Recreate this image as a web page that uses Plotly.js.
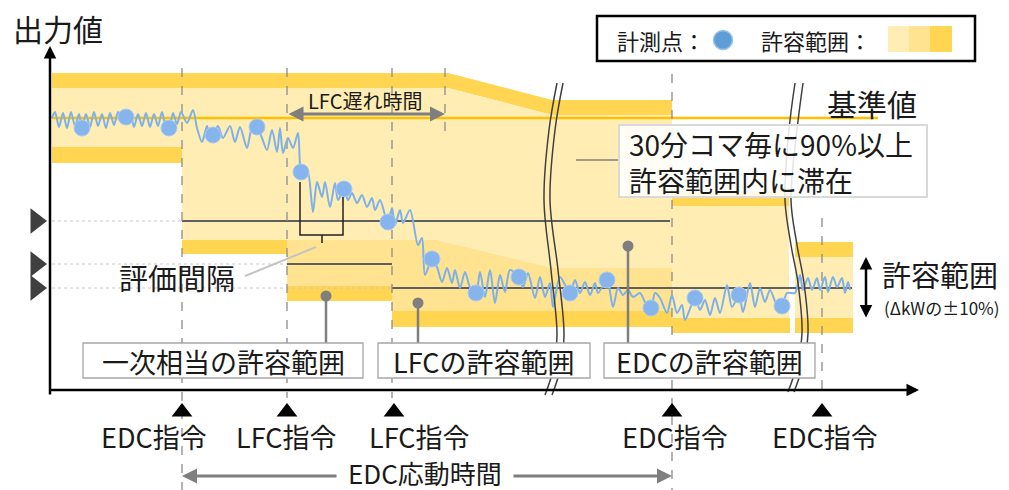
<!DOCTYPE html>
<html><head><meta charset="utf-8">
<script src="https://cdn.plot.ly/plotly-3.0.1.min.js"></script>
<style>html,body{margin:0;padding:0;background:#fff}#c{width:1009px;height:490px}</style>
</head><body><div id="c"></div>
<script>
// ---------- data (chart units: x = time position, y = output position, axis reversed) ----------
const waveX = [52,55,59,63,67,71,75,79,82,86,90,94,98,102,106,110,114,118,122,126,130,134,138,142,146,150,154,158,162,166,169,173,177,181,
  187,193,197,202,207,210,213,218,223,230,235,240,247,252,257,262,267,272,277,280,283,288,293,298,301,
  305,308,313,317,322,325,330,335,338,344,348,352,357,362,367,372,375,380,385,388,392,395,400,403,410,418,422,425,432,437,442,447,452,455,460,465,470,476,480,485,490,495,500,505,510,519,523,528,535,540,545,550,553,560,
  570,575,580,585,590,595,598,607,613,618,623,628,633,640,645,651,655,660,667,672,677,682,685,695,700,705,710,715,720,727,732,739,743,750,755,760,765,770,777,782,787,
  795,800,803,808,812,817,820,825,828,833,837,842,845,848,850];
const waveY = [118,112,127,113,128,112,126,114,128,114,127,112,126,114,128,113,125,112,121,117,113,127,114,126,113,127,114,126,112,127,128,113,124,112,
  123,110,128,142,126,137,135,126,138,126,142,127,148,128,127,138,150,130,152,128,153,138,148,133,172,
  177,172,212,182,197,182,207,183,200,189,200,193,203,195,207,198,210,200,215,222,208,225,210,223,210,245,238,275,259,267,282,268,283,270,288,272,287,293,272,297,270,303,275,292,270,277,287,273,298,277,297,283,307,277,
  293,280,293,282,295,283,293,280,307,288,295,290,297,293,302,308,293,298,313,295,313,305,320,298,310,300,315,298,313,285,307,295,312,283,307,288,302,290,305,306,293,
  293,275,290,278,290,278,290,277,292,277,287,278,293,282,290];
const pointX = [82,126,169,213,257,301,344,388,432,476,519,570,607,651,695,739,782];
const pointY = [128,117,128,135,127,172,189,222,259,293,277,293,280,308,298,295,306];

const commandX = [182,287,394,672,822];
const commandLabelX = [154,286,419,675,825];
const commandLabels = ['EDC指令','LFC指令','LFC指令','EDC指令','EDC指令'];

const levelY = [221,264,288];          // target output levels (left triangles)
const baseY = 118;                      // 基準値

// allowable-range bands: [x, y] outlines
const bandDarkTop   = [[52,73],[448,73],[552,100],[672,100],[672,115],[552,115],[448,88],[52,88]];
const bandPrimLight = [[52,88],[182,88],[182,147],[52,147]];
const bandPrimDark  = [[52,147],[182,147],[182,163],[52,163]];
const bandEdcLight  = [[182,88],[448,88],[552,115],[672,115],[672,268],[553,268],[437,240],[182,240]];
const bandEdcDark   = [[182,240],[287,240],[287,254],[182,254]];
const bandLfc1Mid   = [[287,240],[392,240],[392,286],[287,286]];
const bandLfc1Dark  = [[287,286],[392,286],[392,301],[287,301]];
const bandLfc2Mid   = [[392,240],[437,240],[553,268],[672,268],[672,311],[392,311]];
const bandLfc2Dark  = [[392,311],[672,311],[672,327],[392,327]];
const bandEdc2DarkT = [[672,191],[789,191],[789,206],[672,206]];
const bandEdc2Light = [[672,206],[789,206],[789,318],[672,318]];
const bandEdc2DarkB = [[672,318],[790,318],[790,333],[672,333]];
const bandEdc3DarkT = [[795,242],[853,242],[853,257],[795,257]];
const bandEdc3Light = [[795,257],[853,257],[853,318],[795,318]];
const bandEdc3DarkB = [[795,318],[853,318],[853,333],[795,333]];

// break marks (wavy double lines)
const break1A = [[557,83],[549,130],[544,200],[551,270],[557,335],[553,370],[545,395]];
const break1B = [[563,83],[555,130],[550,200],[558,270],[564,335],[560,370],[552,395]];
const break2A = [[795,83],[789,130],[785,200],[791,245],[798,283],[802,333],[797,365],[788,392]];
const break2B = [[803,83],[797,130],[791,200],[797,245],[804,283],[808,333],[803,365],[794,392]];

// callout pins and label boxes
const pinX = [326,418,628];
const pinY = [296,303,246];
const pinEndY = 343;
const boxLabels = ['一次相当の許容範囲','LFCの許容範囲','EDCの許容範囲'];
const boxX0 = [83,378,604];
const boxX1 = [363,590,815];

// ---------- styles ----------
const LIGHT='#FFEDB4', MID='#FFE391', DARK='#FFD552';
const FONT='"Noto Sans CJK JP","Noto Sans",sans-serif';

function poly(pts, fill){
  return {type:'path', xref:'x', yref:'y', layer:'below',
    path:'M'+pts.map(p=>p[0]+','+p[1]).join('L')+'Z', fillcolor:fill, line:{width:0}};
}
function line(x0,y0,x1,y1,color,width,dash,layer){
  return {type:'line',xref:'x',yref:'y',x0,y0,x1,y1,layer:layer||'below',line:{color,width,dash:dash||'solid'}};
}
function rect(x0,y0,x1,y1,fill,lc,lw,layer){
  return {type:'rect',xref:'x',yref:'y',x0,y0,x1,y1,layer:layer||'above',fillcolor:fill,line:{color:lc,width:lw}};
}
function txt(x,y,text,size,opts){
  return Object.assign({x,y,xref:'x',yref:'y',text,showarrow:false,
    font:{family:FONT,size,color:'#1a1a1a'},xanchor:'center',yanchor:'middle'},opts||{});
}
function arrow(x,y,ax,ay,color,width,both){
  return {x,y,ax,ay,xref:'x',yref:'y',axref:'x',ayref:'y',text:'',showarrow:true,
    arrowhead:2,arrowsize:1,arrowwidth:width,arrowcolor:color,standoff:0,startstandoff:0,
    arrowside: both?'end+start':'end', startarrowhead:2, startarrowsize:1};
}

const shapes = [
  poly(bandDarkTop,DARK), poly(bandPrimLight,LIGHT), poly(bandPrimDark,DARK),
  poly(bandEdcLight,LIGHT), poly(bandEdcDark,DARK),
  poly(bandLfc1Mid,MID), poly(bandLfc1Dark,DARK),
  poly(bandLfc2Mid,MID), poly(bandLfc2Dark,DARK),
  poly(bandEdc2DarkT,DARK), poly(bandEdc2Light,LIGHT), poly(bandEdc2DarkB,DARK),
  poly(bandEdc3DarkT,DARK), poly(bandEdc3Light,LIGHT), poly(bandEdc3DarkB,DARK),
  // dotted guides from levels to the axis
  line(52,levelY[0],182,levelY[0],'#C8C8C8',1,'dot'),
  line(52,levelY[1],287,levelY[1],'#C8C8C8',1,'dot'),
  line(52,levelY[2],392,levelY[2],'#C8C8C8',1,'dot'),
  // level lines
  line(182,levelY[0],670,levelY[0],'#5F5F5F',2),
  line(287,levelY[1],392,levelY[1],'#5F5F5F',2),
  line(392,levelY[2],852,levelY[2],'#5F5F5F',2),
  // baseline
  line(52,baseY,878,baseY,'#FFC000',2.5),
  // dashed time markers
  line(182,68,182,490,'#8C8C8C',1.3,'dash'),
  line(287,68,287,398,'#8C8C8C',1.3,'dash'),
  line(392,68,392,398,'#8C8C8C',1.3,'dash'),
  line(445,68,445,140,'#8C8C8C',1.3,'dash'),
  line(672,74,672,490,'#8C8C8C',1.3,'dash'),
  line(822,218,822,398,'#8C8C8C',1.3,'dash'),
  // legend (below the traces so the marker sample shows)
  rect(597,16,975,61,'#FFFFFF','#000000',2.5,'below'),
  rect(888,26,909,52,LIGHT,LIGHT,0,'below'),
  rect(909,26,930,52,MID,MID,0,'below'),
  rect(930,26,952,52,DARK,DARK,0,'below'),
  // bracket for 評価間隔
  {type:'path',xref:'x',yref:'y',layer:'above',path:'M300,182L300,235L343,235L343,197',line:{color:'#222',width:1.5}},
  line(322,235,322,243,'#222',1.5,'solid','above'),
  // leader lines
  line(245,276,316,247,'#C4C4C4',2,'solid','above'),
  line(576,160,619,160,'#7F7F7F',1.3,'solid','above'),
  // boxes
  rect(619,125,927,197,'rgba(255,255,255,0.86)','#D9D9D9',2),
  rect(boxX0[0],343,boxX1[0],378,'#FFFFFF','#A6A6A6',1.3),
  rect(boxX0[1],343,boxX1[1],378,'#FFFFFF','#A6A6A6',1.3),
  rect(boxX0[2],343,boxX1[2],378,'#FFFFFF','#A6A6A6',1.3)
];

function xs(a){return a.map(p=>p[0]);} function ys(a){return a.map(p=>p[1]);}
const breakTraces = [break1A,break1B,break2A,break2B].map(b=>({
  x:xs(b),y:ys(b),mode:'lines',line:{color:'#404040',width:1.5,shape:'spline',smoothing:1},hoverinfo:'skip'}));

const pinLineX=[], pinLineY=[];
pinX.forEach((x,i)=>{pinLineX.push(x,x,null);pinLineY.push(pinY[i],pinEndY,null);});

const traces = [
  {x:waveX,y:waveY,mode:'lines',line:{color:'#7DB1E9',width:2,shape:'spline',smoothing:0.8},hoverinfo:'skip'},
  {x:pointX,y:pointY,mode:'markers',marker:{size:16,color:'#85B5EC',line:{color:'#A8CAF2',width:1}},hoverinfo:'skip'},
  ...breakTraces,
  {x:pinLineX,y:pinLineY,mode:'lines',line:{color:'#7F7F7F',width:2.5},hoverinfo:'skip'},
  {x:pinX,y:pinY,mode:'markers',marker:{size:11,color:'#7F7F7F'},hoverinfo:'skip'},
  {x:levelY.map(()=>36),y:levelY,mode:'markers',marker:{symbol:'triangle-right',size:22,color:'#3F3F3F'},hoverinfo:'skip'},
  {x:commandX,y:commandX.map(()=>412),mode:'markers',marker:{symbol:'triangle-up',size:18,color:'#000'},hoverinfo:'skip'},
  {x:[723],y:[40],mode:'markers',marker:{size:19,color:'#5E9DD6',line:{color:'#9CC3E8',width:1.5}},hoverinfo:'skip'}
];

const annotations = [
  txt(11,28,'出力値',30,{xanchor:'left'}),
  arrow(50,46,50,396,'#000',2.5,false),
  arrow(919,390,48,390,'#000',2.5,false),
  txt(615,40,'計測点：',22,{xanchor:'left'}),
  txt(759,40,'許容範囲：',22,{xanchor:'left'}),
  txt(872,103,'基準値',30),
  txt(627,162,'30分コマ毎に90%以上<br>許容範囲内に滞在',28,{xanchor:'left',align:'left'}),
  txt(365,100,'LFC遅れ時間',20),
  arrow(445,114,287,114,'#7F7F7F',3,true),
  txt(177,277,'評価間隔',29),
  txt((boxX0[0]+boxX1[0])/2,361,boxLabels[0],27),
  txt((boxX0[1]+boxX1[1])/2,361,boxLabels[1],27),
  txt((boxX0[2]+boxX1[2])/2,361,boxLabels[2],27),
  arrow(866,257,866,319,'#000',2.5,true),
  txt(940,274,'許容範囲',29),
  txt(941,307,'(ΔkWの±10%)',17),
  txt(425,472,'EDC応動時間',26),
  arrow(182,476,338,476,'#7F7F7F',3,false),
  arrow(672,476,512,476,'#7F7F7F',3,false)
].concat(commandLabels.map((t,i)=>txt(commandLabelX[i],436,t,27)));

const layout = {
  width:1009,height:490,margin:{l:0,r:0,t:0,b:0},
  paper_bgcolor:'#fff',plot_bgcolor:'#fff',showlegend:false,
  xaxis:{range:[0,1009],visible:false,fixedrange:true},
  yaxis:{range:[490,0],visible:false,fixedrange:true},
  font:{family:FONT},
  shapes, annotations
};
Plotly.newPlot('c',traces,layout,{staticPlot:true,displayModeBar:false});
</script></body></html>
